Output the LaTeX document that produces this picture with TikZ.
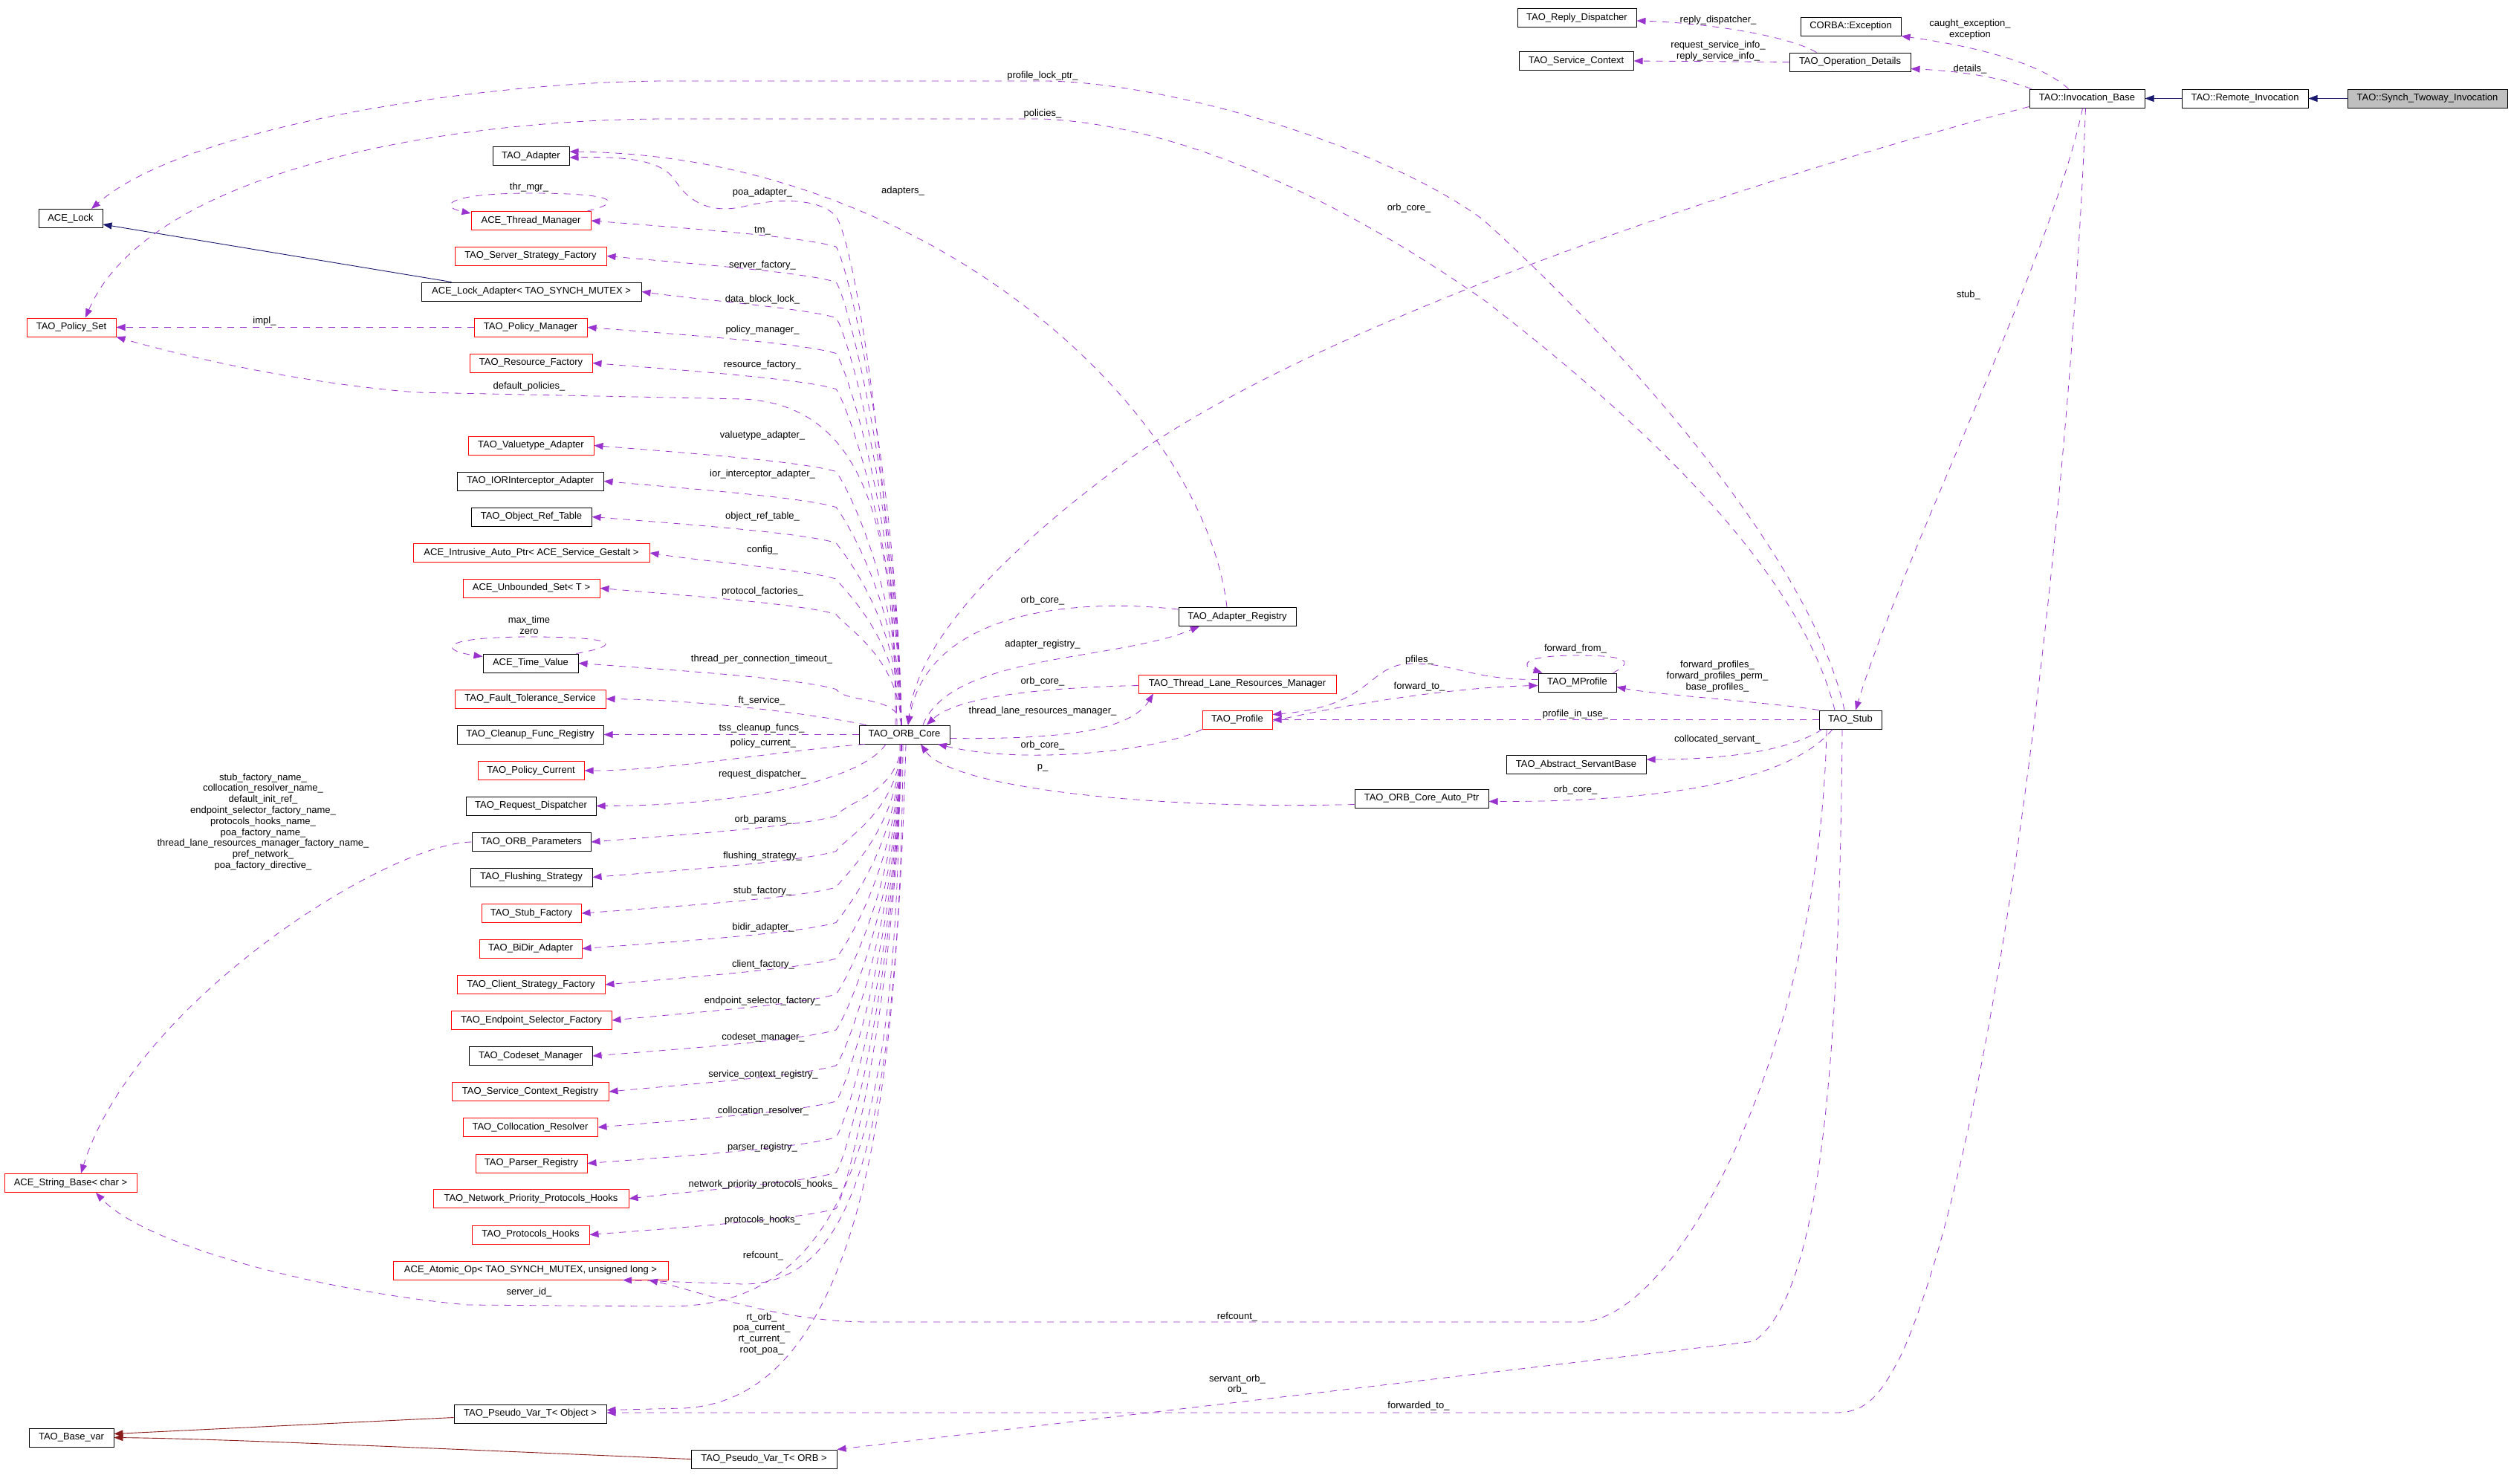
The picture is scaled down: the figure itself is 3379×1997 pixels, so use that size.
\documentclass[tikz,border=0pt]{standalone}
\usepackage{fontspec}
\setmainfont{Liberation Sans}
\usetikzlibrary{arrows.meta,calc}
\definecolor{edgep}{HTML}{9A32CD}
\definecolor{inhb}{HTML}{191970}
\definecolor{privr}{HTML}{8B1A1A}
\definecolor{grayfill}{HTML}{BFBFBF}
\tikzset{
 box/.style={draw=black, line width=1pt, minimum height=25pt, inner sep=0pt, font=\fontsize{13}{15}\selectfont, anchor=center},
 rbox/.style={box, draw=red},
 lbl/.style={font=\fontsize{13}{14.8}\selectfont, inner sep=0pt, align=center},
 uedge/.style={edgep, line width=0.8pt, dash pattern=on 9pt off 8pt, -{Triangle[length=12pt,width=9pt]}},
 iedge/.style={inhb, line width=0.9pt, -{Triangle[length=12pt,width=9pt]}},
 pedge/.style={privr, line width=0.9pt, -{Triangle[length=12pt,width=9pt]}},
}
\newcommand\orbabove[1]{\draw[uedge] let \p1=(#1.east) in ([xshift=-4pt]orb.north) .. controls (1208pt,{0.5*\y1-488pt}) and (1140pt,{\y1-55pt}) .. (1125pt,{\y1-35pt}) .. controls (1080pt,{\y1-22pt}) and (950pt,{\y1-12pt}) .. (#1.east);}
\newcommand\orbbelow[1]{\draw[uedge] let \p1=(#1.east) in ([xshift=-4pt]orb.south) .. controls (1208pt,{0.5*\y1-500.5pt}) and (1140pt,{\y1+55pt}) .. (1125pt,{\y1+35pt}) .. controls (1080pt,{\y1+22pt}) and (950pt,{\y1+12pt}) .. (#1.east);}
\begin{document}
\begin{tikzpicture}[x=1pt,y=-1pt]
\useasboundingbox[fill=white] (0,0) rectangle (3379,1997);
% ---------- nodes: top right
\node[box,minimum width=160pt] (reply) at (2122,24) {TAO\_Reply\_Dispatcher};
\node[box,minimum width=135pt] (exc) at (2490.5,35.5) {CORBA::Exception};
\node[box,minimum width=154pt] (svcctx) at (2121,82) {TAO\_Service\_Context};
\node[box,minimum width=163pt] (opdet) at (2489.5,83.5) {TAO\_Operation\_Details};
\node[box,minimum width=155pt] (invb) at (2808.5,132.5) {TAO::Invocation\_Base};
\node[box,minimum width=170pt] (remote) at (3021,132.5) {TAO::Remote\_Invocation};
\node[box,minimum width=215pt,fill=grayfill] (synch) at (3266.5,132.5) {TAO::Synch\_Twoway\_Invocation};
% ---------- middle
\node[box,minimum width=84pt] (stub) at (2490,968.5) {TAO\_Stub};
\node[box,minimum width=122pt] (orb) at (1217,988.5) {TAO\_ORB\_Core};
\node[box,minimum width=158pt] (adreg) at (1665,830) {TAO\_Adapter\_Registry};
\node[rbox,minimum width=266pt] (tlrm) at (1665,920.5) {TAO\_Thread\_Lane\_Resources\_Manager};
\node[rbox,minimum width=94pt] (profile) at (1665,968.5) {TAO\_Profile};
\node[box,minimum width=105pt] (mprof) at (2122.5,918.5) {TAO\_MProfile};
\node[box,minimum width=188pt] (asb) at (2121,1029) {TAO\_Abstract\_ServantBase};
\node[box,minimum width=180pt] (autoptr) at (1913,1074.5) {TAO\_ORB\_Core\_Auto\_Ptr};
% ---------- left
\node[box,minimum width=86pt] (acelock) at (95,294) {ACE\_Lock};
\node[rbox,minimum width=120pt] (polset) at (96,440.5) {TAO\_Policy\_Set};
\node[box,minimum width=103pt] (adapter) at (714.5,210) {TAO\_Adapter};
\node[rbox,minimum width=161pt] (thrmgr) at (714.5,297) {ACE\_Thread\_Manager};
\node[rbox,minimum width=204pt] (ssf) at (714,344.5) {TAO\_Server\_Strategy\_Factory};
\node[box,minimum width=296pt] (lockad) at (715,392.5) {ACE\_Lock\_Adapter< TAO\_SYNCH\_MUTEX >};
\node[rbox,minimum width=152pt] (polmgr) at (714,440.5) {TAO\_Policy\_Manager};
\node[rbox,minimum width=165pt] (resfac) at (714.5,488.5) {TAO\_Resource\_Factory};
\node[rbox,minimum width=169pt] (vta) at (714.5,599.5) {TAO\_Valuetype\_Adapter};
\node[box,minimum width=197pt] (iora) at (713.5,647.5) {TAO\_IORInterceptor\_Adapter};
\node[box,minimum width=162pt] (ort) at (715,695.5) {TAO\_Object\_Ref\_Table};
\node[rbox,minimum width=318pt] (iap) at (715,744) {ACE\_Intrusive\_Auto\_Ptr< ACE\_Service\_Gestalt >};
\node[rbox,minimum width=184pt] (uset) at (715,791.5) {ACE\_Unbounded\_Set< T >};
\node[box,minimum width=128pt] (tv) at (714,892.5) {ACE\_Time\_Value};
\node[rbox,minimum width=203pt] (fts) at (713.5,940.5) {TAO\_Fault\_Tolerance\_Service};
\node[box,minimum width=197pt] (cfr) at (713.5,988.5) {TAO\_Cleanup\_Func\_Registry};
\node[rbox,minimum width=143pt] (pcur) at (714.5,1037) {TAO\_Policy\_Current};
\node[box,minimum width=175pt] (rd) at (714.5,1084.5) {TAO\_Request\_Dispatcher};
\node[box,minimum width=160pt] (orbp) at (715,1133) {TAO\_ORB\_Parameters};
\node[box,minimum width=164pt] (fls) at (715,1180.5) {TAO\_Flushing\_Strategy};
\node[rbox,minimum width=134pt] (stf) at (715,1229) {TAO\_Stub\_Factory};
\node[rbox,minimum width=138pt] (bidir) at (714,1276.5) {TAO\_BiDir\_Adapter};
\node[rbox,minimum width=199pt] (csf) at (714.5,1325) {TAO\_Client\_Strategy\_Factory};
\node[rbox,minimum width=216pt] (esf) at (715,1373) {TAO\_Endpoint\_Selector\_Factory};
\node[box,minimum width=166pt] (csm) at (714,1421) {TAO\_Codeset\_Manager};
\node[rbox,minimum width=211pt] (scr) at (713.5,1469) {TAO\_Service\_Context\_Registry};
\node[rbox,minimum width=181pt] (colr) at (713.5,1517) {TAO\_Collocation\_Resolver};
\node[rbox,minimum width=150pt] (pr) at (715,1565.5) {TAO\_Parser\_Registry};
\node[rbox,minimum width=263pt] (nph) at (714.5,1613) {TAO\_Network\_Priority\_Protocols\_Hooks};
\node[rbox,minimum width=158pt] (ph) at (714,1661.5) {TAO\_Protocols\_Hooks};
\node[rbox,minimum width=370pt] (aop) at (714,1709.5) {ACE\_Atomic\_Op< TAO\_SYNCH\_MUTEX, unsigned long >};
\node[rbox,minimum width=178pt] (strb) at (95,1592) {ACE\_String\_Base< char >};
\node[box,minimum width=205pt] (pvo) at (713.5,1902.5) {TAO\_Pseudo\_Var\_T< Object >};
\node[box,minimum width=114pt] (basevar) at (96,1934.5) {TAO\_Base\_var};
\node[box,minimum width=196pt] (pvorb) at (1028,1963.5) {TAO\_Pseudo\_Var\_T< ORB >};
% ---------- inheritance edges
\draw[iedge] (remote.west) -- (invb.east);
\draw[iedge] (synch.west) -- (remote.east);
\draw[iedge] ([xshift=41pt]lockad.north west) -- ([yshift=5pt]acelock.south east);
\draw[pedge] ([yshift=-5pt]pvo.west) -- ([yshift=5pt]basevar.east);
\draw[pedge] (pvorb.west) .. controls (600,1950) and (300,1936) .. (basevar.east);
% ---------- top right usage
\draw[uedge] ([xshift=-45pt]opdet.north) .. controls (2400,45) and (2280,30) .. ([yshift=-4pt]reply.east);
\node[lbl] at (2312,27) {reply\_dispatcher\_};
\draw[uedge] (opdet.west) -- (svcctx.east);
\node[lbl] at (2312,69) {request\_service\_info\_\\reply\_service\_info\_};
\draw[uedge] ([xshift=-25pt]invb.north) .. controls (2740,80) and (2640,60) .. (exc.south east);
\node[lbl] at (2651,39.5) {caught\_exception\_\\exception};
\draw[uedge] ([xshift=3pt]invb.north west) .. controls (2680,100) and (2620,95) .. ([yshift=4pt]opdet.south east);
\node[lbl] at (2651,93) {details\_};
\draw[uedge] ([xshift=-6pt]invb.south) .. controls (2760,350) and (2560,750) .. ([xshift=7pt]stub.north);
\node[lbl] at (2649,397) {stub\_};
\draw[uedge] ([yshift=2pt]invb.south west) .. controls (2400,230) and (1800,420) .. (1525,614) .. controls (1380,720) and (1235,850) .. ([xshift=5pt]orb.north);
\node[lbl] at (1896,280) {orb\_core\_};
\draw[uedge] ([xshift=-2pt]invb.south) .. controls (2790,600) and (2700,1500) .. (2560,1820) .. controls (2530,1880) and (2510,1901) .. (2470,1901) -- ([yshift=1.5pt]pvo.east);
\node[lbl] at (1909,1892) {forwarded\_to\_};
% ---------- stub usage
\draw[uedge] ([xshift=-8pt]stub.north) .. controls (2440,760) and (2200,480) .. (1995,295) .. controls (1850,190) and (1560,109) .. (1403,109) -- (900,109) .. controls (650,109) and (250,170) .. ([xshift=28pt]acelock.north);
\node[lbl] at (1403,102) {profile\_lock\_ptr\_};
\draw[uedge] ([xshift=-21pt]stub.north) .. controls (2420,760) and (2200,560) .. (2000,406) .. controls (1850,300) and (1620,170) .. (1403,160) -- (900,160) .. controls (600,160) and (200,230) .. ([xshift=19pt]polset.north);
\node[lbl] at (1403,153) {policies\_};
\draw[uedge] (stub.north west) .. controls (2380,945) and (2230,935) .. ([yshift=-6pt]mprof.east);
\node[lbl] at (2311,910) {forward\_profiles\_\\forward\_profiles\_perm\_\\base\_profiles\_};
\draw[uedge] (stub.west) -- (profile.east);
\node[lbl] at (2120,961) {profile\_in\_use\_};
\draw[uedge] ([xshift=-38pt]stub.south) .. controls (2400,1015) and (2300,1022) .. ([yshift=7pt]asb.east);
\node[lbl] at (2311,995) {collocated\_servant\_};
\draw[uedge] ([xshift=-24pt]stub.south) .. controls (2400,1060) and (2200,1079) .. ([yshift=-4pt]autoptr.east);
\node[lbl] at (2120,1063) {orb\_core\_};
\draw[uedge] ([xshift=-32pt]stub.south) .. controls (2450,1400) and (2260,1779) .. (2125,1779) -- (1171,1779) .. controls (1050,1779) and (950,1740) .. ([xshift=159pt]aop.south);
\node[lbl] at (1665,1772) {refcount\_};
\draw[uedge] ([xshift=-11pt]stub.south) .. controls (2475,1500) and (2440,1750) .. (2360,1805) -- (pvorb.north east);
\node[lbl] at (1665,1863) {servant\_orb\_\\orb\_};
% ---------- profiles
\draw[uedge] ([xshift=-5pt]mprof.north east) .. controls (2200,890) and (2190,882) .. (2122,882) .. controls (2050,882) and (2045,895) .. ([xshift=6pt]mprof.north west);
\node[lbl] at (2120,873) {forward\_from\_};
\draw[uedge] ([yshift=4pt]mprof.west) .. controls (1980,915) and (1960,893) .. (1900,893) .. controls (1840,893) and (1850,950) .. ([yshift=7pt]profile.east);
\node[lbl] at (1910,888) {pfiles\_};
\draw[uedge] ([yshift=-2pt]profile.east) .. controls (1800,950) and (1950,925) .. ([yshift=-4pt]mprof.west);
\node[lbl] at (1910,924) {forward\_to\_};
\draw[uedge] (profile.south west) .. controls (1560,1010) and (1380,1030) .. ([xshift=45pt]orb.south);
\node[lbl] at (1403,1003) {orb\_core\_};
% ---------- around ORB core (right)
\draw[uedge] ([yshift=-2pt]tlrm.west) .. controls (1420,925) and (1290,935) .. ([xshift=30pt]orb.north);
\node[lbl] at (1403,917) {orb\_core\_};
\draw[uedge] ([yshift=-5pt]orb.east) .. controls (1420,995) and (1520,985) .. ([xshift=-113pt]tlrm.south);
\node[lbl] at (1403,957) {thread\_lane\_resources\_manager\_};
\draw[uedge] ([yshift=10pt]adreg.west) .. controls (1450,805) and (1250,820) .. ([xshift=5pt]orb.north);
\node[lbl] at (1403,808) {orb\_core\_};
\draw[uedge] ([xshift=25pt]orb.north) .. controls (1280,880) and (1500,890) .. ([xshift=-51pt]adreg.south);
\node[lbl] at (1403,867) {adapter\_registry\_};
\draw[uedge] ([yshift=-8pt]autoptr.west) .. controls (1550,1090) and (1280,1060) .. ([xshift=22pt]orb.south);
\node[lbl] at (1403,1033) {p\_};
\draw[uedge] ([xshift=-14pt]adreg.north) .. controls (1620,550) and (1250,210) .. ([yshift=6pt]adapter.east);
\node[lbl] at (1215,257) {adapters\_};
% ---------- ORB core to left column
\draw[uedge] ([xshift=-10pt]orb.north) .. controls (1200,650) and (1150,320) .. (1124,290) .. controls (1100,265) and (1040,268) .. (1005,277) .. controls (960,288) and (930,275) .. (910,245) .. controls (895,220) and (860,210) .. ([yshift=-2pt]adapter.east);
\node[lbl] at (1026,259) {poa\_adapter\_};
\orbabove{thrmgr}\node[lbl] at (1026,311) {tm\_};
\orbabove{ssf}\node[lbl] at (1026,357) {server\_factory\_};
\orbabove{lockad}\node[lbl] at (1026,403) {data\_block\_lock\_};
\orbabove{polmgr}\node[lbl] at (1026,444) {policy\_manager\_};
\orbabove{resfac}\node[lbl] at (1026,491) {resource\_factory\_};
\draw[uedge] ([xshift=-12pt]orb.north) .. controls (1205,700) and (1160,545) .. (1000,537) -- (560,528) .. controls (400,515) and (250,480) .. (polset.south east);
\node[lbl] at (712,520) {default\_policies\_};
\orbabove{vta}\node[lbl] at (1026,586) {valuetype\_adapter\_};
\orbabove{iora}\node[lbl] at (1026,638) {ior\_interceptor\_adapter\_};
\orbabove{ort}\node[lbl] at (1026,695) {object\_ref\_table\_};
\orbabove{iap}\node[lbl] at (1026,740) {config\_};
\orbabove{uset}\node[lbl] at (1026,796) {protocol\_factories\_};
\orbabove{tv}\node[lbl] at (1025,887) {thread\_per\_connection\_timeout\_};
\draw[uedge] ([xshift=10pt]orb.north west) .. controls (1100,962) and (950,942) .. (fts.east);
\node[lbl] at (1025,943) {ft\_service\_};
\draw[uedge] (orb.west) -- (cfr.east);
\node[lbl] at (1025,980) {tss\_cleanup\_funcs\_};
\draw[uedge] ([xshift=8pt]orb.south west) .. controls (1050,1010) and (900,1037) .. (pcur.east);
\node[lbl] at (1027,1000) {policy\_current\_};
\draw[uedge] ([xshift=-25pt]orb.south) .. controls (1160,1050) and (1000,1084) .. (rd.east);
\node[lbl] at (1026,1042) {request\_dispatcher\_};
\orbbelow{orbp}\node[lbl] at (1027,1103) {orb\_params\_};
\orbbelow{fls}\node[lbl] at (1026,1152) {flushing\_strategy\_};
\orbbelow{stf}\node[lbl] at (1026,1199) {stub\_factory\_};
\orbbelow{bidir}\node[lbl] at (1027,1248) {bidir\_adapter\_};
\orbbelow{csf}\node[lbl] at (1027,1298) {client\_factory\_};
\orbbelow{esf}\node[lbl] at (1026,1347) {endpoint\_selector\_factory\_};
\orbbelow{csm}\node[lbl] at (1027,1396) {codeset\_manager\_};
\orbbelow{scr}\node[lbl] at (1027,1446) {service\_context\_registry\_};
\orbbelow{colr}\node[lbl] at (1027,1495) {collocation\_resolver\_};
\orbbelow{pr}\node[lbl] at (1026,1544) {parser\_registry\_};
\orbbelow{nph}\node[lbl] at (1027,1594) {network\_priority\_protocols\_hooks\_};
\orbbelow{ph}\node[lbl] at (1026,1642) {protocols\_hooks\_};
\draw[uedge] ([xshift=2pt]orb.south) .. controls (1205,1500) and (1160,1728) .. (1000,1728) -- ([xshift=124pt]aop.south);
\node[lbl] at (1027,1690) {refcount\_};
\draw[uedge] ([xshift=-6pt]orb.south) .. controls (1210,1500) and (1150,1758) .. (900,1758) -- (630,1756) .. controls (450,1740) and (200,1680) .. ([xshift=34pt]strb.south);
\node[lbl] at (712,1739) {server\_id\_};
\draw[uedge] ([xshift=-2pt]orb.south) .. controls (1212,1600) and (1120,1885) .. (920,1895) -- ([yshift=5pt]pvo.east);
\node[lbl] at (1025,1795) {rt\_orb\_\\poa\_current\_\\rt\_current\_\\root\_poa\_};
% ---------- self loops and left
\draw[uedge] ([xshift=-5pt]thrmgr.north east) .. controls (840,272) and (830,260) .. (714,260) .. controls (600,260) and (590,278) .. ([yshift=-3pt]thrmgr.north west);
\node[lbl] at (712,252) {thr\_mgr\_};
\draw[uedge] ([xshift=-3pt]tv.north east) .. controls (840,868) and (830,857) .. (714,857) .. controls (590,857) and (590,875) .. ([yshift=-4pt]tv.north west);
\node[lbl] at (712,841) {max\_time\\zero};
\draw[uedge] (polmgr.west) -- (polset.east);
\node[lbl] at (356,432) {impl\_};
\draw[uedge] (orbp.west) .. controls (520,1135) and (180,1350) .. ([xshift=14pt]strb.north);
\node[lbl] at (354,1106) {stub\_factory\_name\_\\collocation\_resolver\_name\_\\default\_init\_ref\_\\endpoint\_selector\_factory\_name\_\\protocols\_hooks\_name\_\\poa\_factory\_name\_\\thread\_lane\_resources\_manager\_factory\_name\_\\pref\_network\_\\poa\_factory\_directive\_};
\end{tikzpicture}
\end{document}
